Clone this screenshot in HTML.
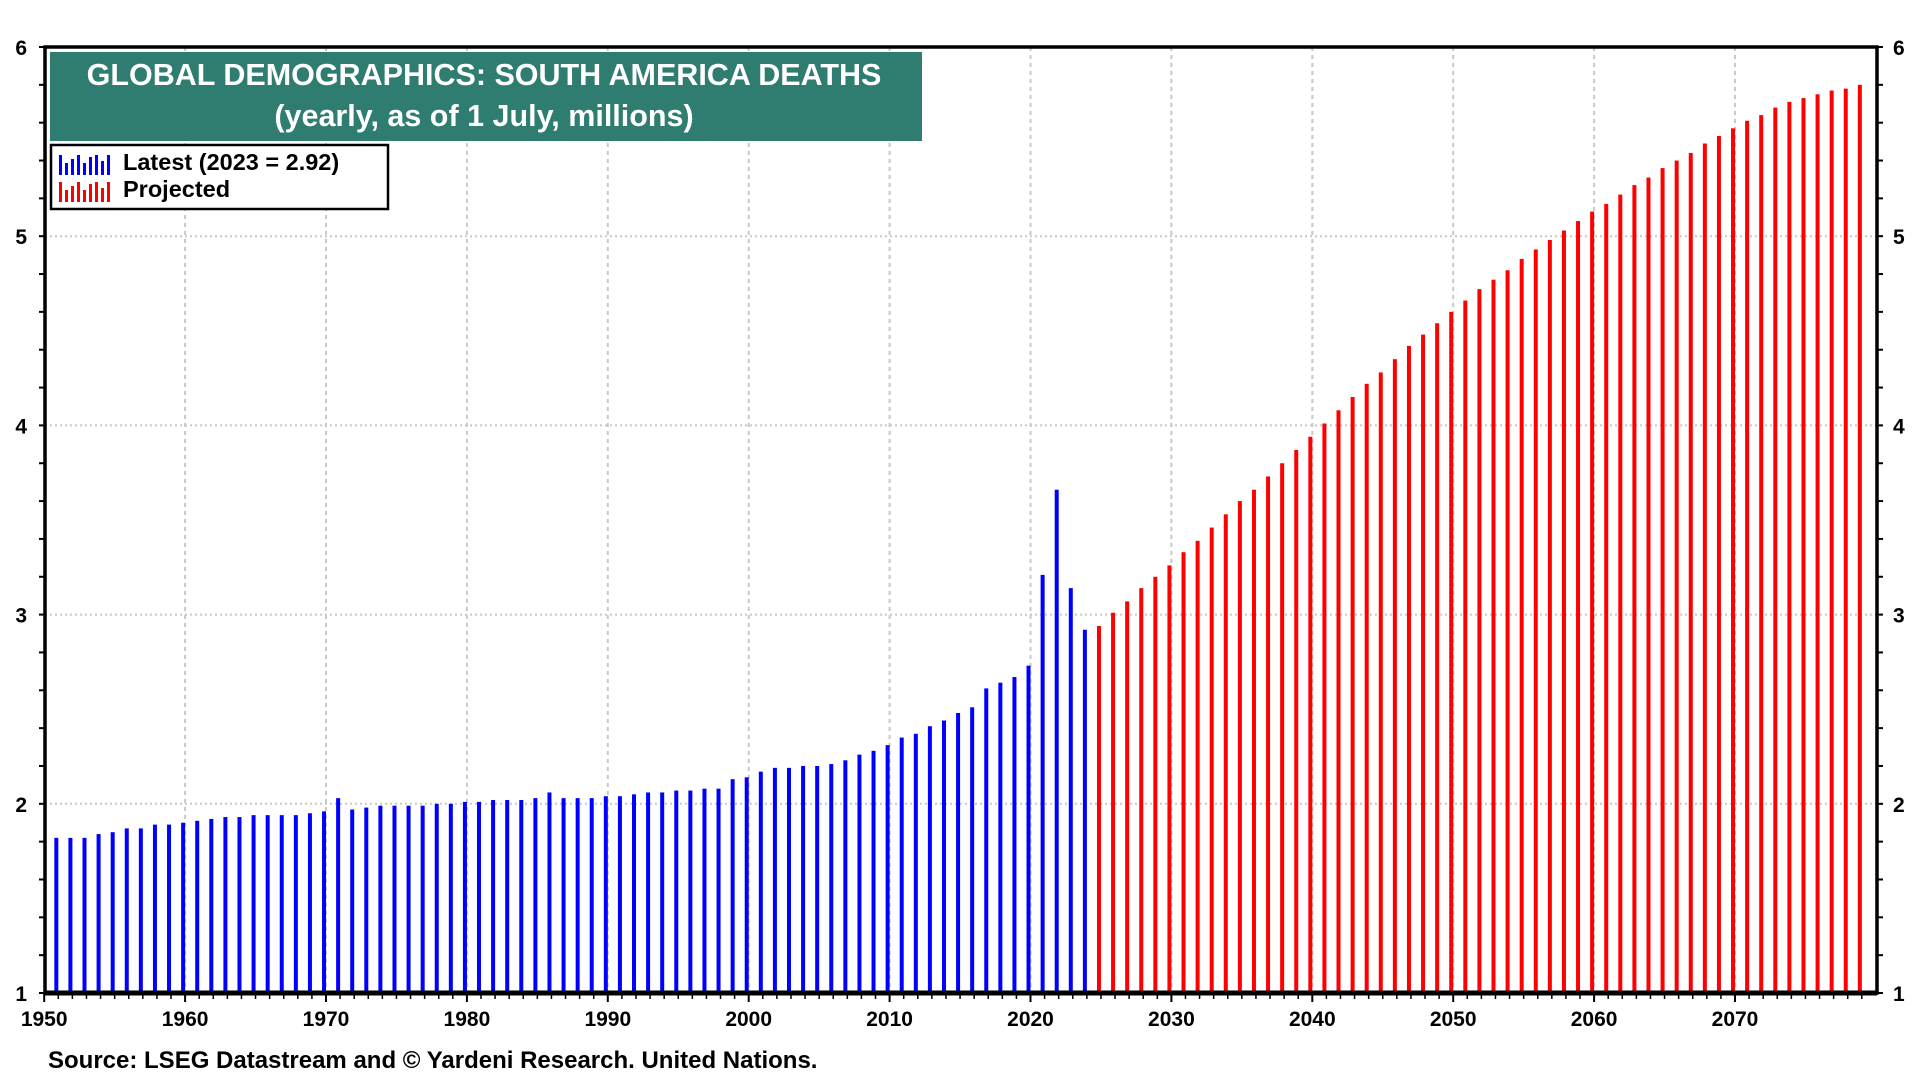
<!DOCTYPE html>
<html><head><meta charset="utf-8"><style>
html,body{margin:0;padding:0;background:#fff;}
svg{display:block;font-family:"Liberation Sans",Arial,sans-serif;font-weight:bold;}
</style></head><body>
<svg id="chart" width="1920" height="1080" viewBox="0 0 1920 1080" xmlns="http://www.w3.org/2000/svg">
<g id="grid"></g>
<g id="bars"></g>
<g id="axes"></g>
<rect x="50" y="52" width="872" height="89" fill="#2e7d70"/>
<text x="484" y="85" fill="#fff" font-size="30.5" text-anchor="middle">GLOBAL DEMOGRAPHICS: SOUTH AMERICA DEATHS</text>
<text x="484" y="126" fill="#fff" font-size="30.5" text-anchor="middle">(yearly, as of 1 July, millions)</text>
<g>
<rect x="51" y="145" width="337" height="64" fill="#fff" stroke="#000" stroke-width="2.5"/>
<g id="leg-icons"></g>
<text x="123" y="170" font-size="23.5">Latest (2023 = 2.92)</text>
<text x="123" y="197" font-size="23.5">Projected</text>
</g>
<text x="48" y="1068" font-size="24">Source: LSEG Datastream and © Yardeni Research. United Nations.</text>
</svg>
<script>
const latestYears = [1950,1951,1952,1953,1954,1955,1956,1957,1958,1959,1960,1961,1962,1963,1964,1965,1966,1967,1968,1969,1970,1971,1972,1973,1974,1975,1976,1977,1978,1979,1980,1981,1982,1983,1984,1985,1986,1987,1988,1989,1990,1991,1992,1993,1994,1995,1996,1997,1998,1999,2000,2001,2002,2003,2004,2005,2006,2007,2008,2009,2010,2011,2012,2013,2014,2015,2016,2017,2018,2019,2020,2021,2022,2023];
const latestValues = [1.82,1.82,1.82,1.84,1.85,1.87,1.87,1.89,1.89,1.90,1.91,1.92,1.93,1.93,1.94,1.94,1.94,1.94,1.95,1.96,2.03,1.97,1.98,1.99,1.99,1.99,1.99,2.00,2.00,2.01,2.01,2.02,2.02,2.02,2.03,2.06,2.03,2.03,2.03,2.04,2.04,2.05,2.06,2.06,2.07,2.07,2.08,2.08,2.13,2.14,2.17,2.19,2.19,2.20,2.20,2.21,2.23,2.26,2.28,2.31,2.35,2.37,2.41,2.44,2.48,2.51,2.61,2.64,2.67,2.73,3.21,3.66,3.14,2.92];
const projYears = [2024,2025,2026,2027,2028,2029,2030,2031,2032,2033,2034,2035,2036,2037,2038,2039,2040,2041,2042,2043,2044,2045,2046,2047,2048,2049,2050,2051,2052,2053,2054,2055,2056,2057,2058,2059,2060,2061,2062,2063,2064,2065,2066,2067,2068,2069,2070,2071,2072,2073,2074,2075,2076,2077,2078];
const projValues = [2.94,3.01,3.07,3.14,3.20,3.26,3.33,3.39,3.46,3.53,3.60,3.66,3.73,3.80,3.87,3.94,4.01,4.08,4.15,4.22,4.28,4.35,4.42,4.48,4.54,4.60,4.66,4.72,4.77,4.82,4.88,4.93,4.98,5.03,5.08,5.13,5.17,5.22,5.27,5.31,5.36,5.40,5.44,5.49,5.53,5.57,5.61,5.64,5.68,5.71,5.73,5.75,5.77,5.78,5.80];
const xTickLabels = [1950,1960,1970,1980,1990,2000,2010,2020,2030,2040,2050,2060,2070];
const yTickLabels = [1,2,3,4,5,6];

const NS="http://www.w3.org/2000/svg";
const L=45,R=1877,T=47,B=993;
const x=yr=>44.2+(yr-1950)*14.09;
const y=v=>B-(v-1)*(B-T)/5;
function mk(tag,attrs,parent){const e=document.createElementNS(NS,tag);for(const k in attrs)e.setAttribute(k,attrs[k]);parent.appendChild(e);return e;}
const grid=document.getElementById('grid'),bars=document.getElementById('bars'),axes=document.getElementById('axes');
yTickLabels.forEach(v=>{
  const g=mk('line',{x1:L,x2:R,y1:y(v),y2:y(v),stroke:'#c8c8c8','stroke-width':2,'stroke-dasharray':'2,3'},grid);
  
  
  const t1=mk('text',{x:27,y:y(v)+8,'font-size':21,'text-anchor':'end'},axes);t1.textContent=v;
  
  
  const t2=mk('text',{x:1893,y:y(v)+8,'font-size':21},axes);t2.textContent=v;
  
  
});
xTickLabels.forEach(v=>{
  if(v>1950){const g=mk('line',{x1:x(v),x2:x(v),y1:T,y2:B,stroke:'#c8c8c8','stroke-width':2,'stroke-dasharray':'4,4'},grid);
  
  }
  const t=mk('text',{x:x(v),y:1026,'font-size':21,'text-anchor':'middle'},axes);t.textContent=v;
  
  
});
function drawBars(yrs,vals,col,name){
  yrs.forEach((yr,i)=>{const bx=x(yr+0.86);
    const r=mk('rect',{x:bx-2,y:y(vals[i]),width:4,height:B-y(vals[i]),fill:col},bars);
    
    });
}
drawBars(latestYears,latestValues,'#0000ff','bar-latest');
drawBars(projYears,projValues,'#ff0000','bar-projected');
for(let v=1;v<=6.001;v+=0.2){mk('line',{x1:L-6,x2:L,y1:y(v),y2:y(v),stroke:'#000','stroke-width':2},axes);mk('line',{x1:R,x2:R+6,y1:y(v),y2:y(v),stroke:'#000','stroke-width':2},axes);}
for(let yr=1950;yr<=2079;yr++){const big=yr%10==0;mk('line',{x1:x(yr),x2:x(yr),y1:B,y2:B+(big?9:6),stroke:'#000','stroke-width':big?2:1.5},axes);}
const frame=mk('rect',{x:L,y:T,width:R-L,height:B-T,fill:'none',stroke:'#000','stroke-width':3.5},axes);


mk('line',{x1:L,x2:R,y1:B,y2:B,stroke:'#000','stroke-width':5},axes);
const li=document.getElementById('leg-icons');
const hs=[1,0.6,0.8,1,0.6,0.9,1,0.7,1];
hs.forEach((h,i)=>{mk('rect',{x:59+i*6,y:175-20*h,width:3,height:20*h,fill:'#0000ff'},li);mk('rect',{x:59+i*6,y:202-20*h,width:3,height:20*h,fill:'#ff0000'},li);});
</script>
</body></html>
